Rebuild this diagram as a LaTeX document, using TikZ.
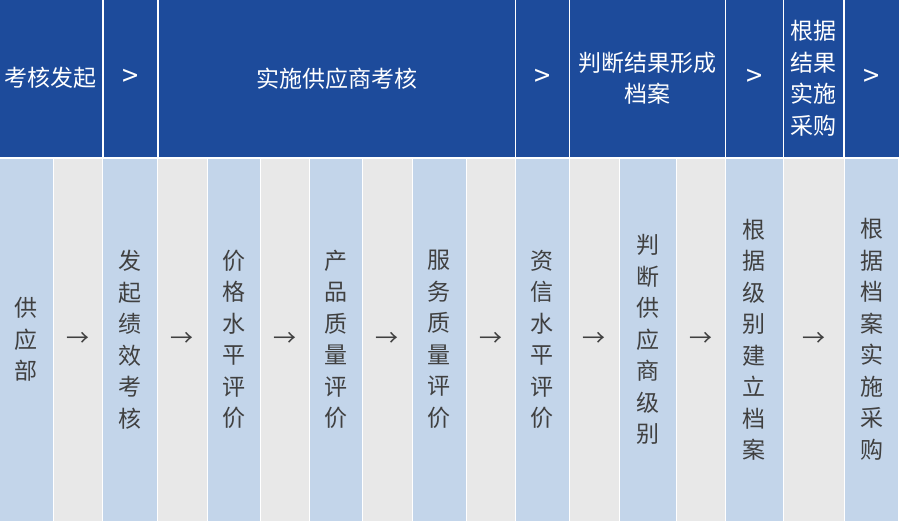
\documentclass[tikz,border=0pt]{standalone}
\usepackage{fontspec}
\setmainfont{Noto Sans CJK SC}
\definecolor{hblue}{HTML}{1D4B9B}
\definecolor{lblue}{HTML}{C3D5EA}
\definecolor{lgray}{HTML}{E8E8E8}
\definecolor{tgray}{HTML}{404040}
\begin{document}
\begin{tikzpicture}[x=1pt,y=-1pt,
  cell/.style={rectangle,inner sep=0pt,outer sep=0pt,anchor=north west,align=center,
    font=\fontsize{23}{31.5}\selectfont},
  head/.style={cell,fill=hblue,text=white,minimum height=156.5pt},
  chev/.style={head,font=\fontsize{29}{31.5}\selectfont},
  stage/.style={cell,fill=lblue,text=tgray,minimum height=362pt},
  gap/.style={cell,fill=lgray,text=tgray,minimum height=362pt},
]
\fill[white] (0,0) rectangle (900,523);
\useasboundingbox (0,0) rectangle (900,523);
% header
\node[head,minimum width=102pt] (h1) at (0,0) {考核发起};
\node[chev,minimum width=53.5pt] (h2) at (103.5,0) {>};
\node[head,minimum width=356pt] (h3) at (158.5,0) {实施供应商考核};
\node[chev,minimum width=52.5pt] (h4) at (516,0) {>};
\node[head,minimum width=154.5pt] (h5) at (570,0) {判断结果形成\\档案};
\node[chev,minimum width=56.5pt] (h6) at (726,0) {>};
\node[head,minimum width=59pt] (h7) at (784,0) {根据\\结果\\实施\\采购};
\node[chev,minimum width=54pt] (h8) at (845,0) {>};
% bottom row
\node[stage,minimum width=52.5pt] (s1) at (0,158.5) {供\\应\\部};
\node[gap,minimum width=47.5pt] (g1) at (54,158.5) {→};
\node[stage,minimum width=53.5pt] (s2) at (103,158.5) {发\\起\\绩\\效\\考\\核};
\node[gap,minimum width=48.5pt] (g2) at (158,158.5) {→};
\node[stage,minimum width=51.5pt] (s3) at (208,158.5) {价\\格\\水\\平\\评\\价};
\node[gap,minimum width=47.5pt] (g3) at (261,158.5) {→};
\node[stage,minimum width=51.5pt] (s4) at (310,158.5) {产\\品\\质\\量\\评\\价};
\node[gap,minimum width=48.5pt] (g4) at (363,158.5) {→};
\node[stage,minimum width=52.5pt] (s5) at (413,158.5) {服\\务\\质\\量\\评\\价};
\node[gap,minimum width=47.5pt] (g5) at (467,158.5) {→};
\node[stage,minimum width=52.5pt] (s6) at (516,158.5) {资\\信\\水\\平\\评\\价};
\node[gap,minimum width=48.5pt] (g6) at (570,158.5) {→};
\node[stage,minimum width=55.5pt] (s7) at (620,158.5) {判\\断\\供\\应\\商\\级\\别};
\node[gap,minimum width=47.5pt] (g7) at (677,158.5) {→};
\node[stage,minimum width=56.5pt] (s8) at (726,158.5) {根\\据\\级\\别\\建\\立\\档\\案};
\node[gap,minimum width=59.5pt] (g8) at (784,158.5) {→};
\node[stage,minimum width=53pt] (s9) at (845,158.5) {根\\据\\档\\案\\实\\施\\采\\购};
\end{tikzpicture}
\end{document}
